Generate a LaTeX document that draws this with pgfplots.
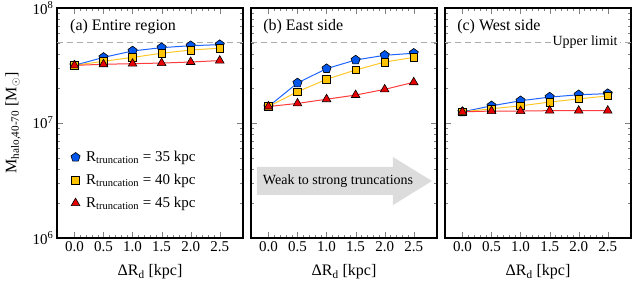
\documentclass[border=0pt]{standalone}
\usepackage{fontspec}
\setmainfont{Liberation Serif}
\usepackage{pgfplots}
\pgfplotsset{compat=1.18}
\usetikzlibrary{plotmarks}
\definecolor{bfill}{RGB}{0,85,235}
\definecolor{bline}{RGB}{30,100,255}
\definecolor{yfill}{RGB}{255,195,0}
\definecolor{yline}{RGB}{255,200,40}
\definecolor{rfill}{RGB}{230,0,0}
\definecolor{rline}{RGB}{255,60,60}
\definecolor{arrowgray}{RGB}{220,220,220}
\definecolor{limgray}{RGB}{170,170,170}
\tikzset{ptitle/.style={anchor=west, inner sep=0pt, font=\fontsize{16}{18}\selectfont}}
\pgfplotsset{
  bser/.style={color=bline, line width=1pt, mark=pentagon*, mark size=4.8pt, mark options={fill=bfill, draw=black, line width=0.6pt}},
  yser/.style={color=yline, line width=1pt, mark=square*, mark size=3.8pt, mark options={fill=yfill, draw=black, line width=0.6pt}},
  rser/.style={color=rline, line width=1pt, mark=triangle*, mark size=5pt, mark options={fill=rfill, draw=black, line width=0.6pt}},
  limline/.style={limgray, dash pattern=on 6pt off 4pt, line width=1.1pt, forget plot},
}
\begin{document}
\begin{tikzpicture}
\path[use as bounding box] (0,0) rectangle (638pt,-283pt);
% Panel (a)
\begin{axis}[at={(57pt,-8pt)}, anchor=north west,
    width=186pt, height=230pt, scale only axis,
    xmin=-0.3, xmax=2.9, ymode=log, ymin=1e6, ymax=1e8,
    xtick={0,0.5,1,1.5,2,2.5}, minor x tick num=4,
    ytick={1e6,1e7,1e8},
    minor ytick={2e6,3e6,4e6,5e6,6e6,7e6,8e6,9e6,2e7,3e7,4e7,5e7,6e7,7e7,8e7,9e7},
    tick align=inside,
    major tick length=6pt, minor tick length=3pt,
    axis line style={line width=1.2pt},
    xticklabel={\pgfmathprintnumber[fixed,fixed zerofill,precision=1,assume math mode=true]{\tick}},
    tick label style={font=\fontsize{15}{17}\selectfont},
    label style={font=\fontsize{16}{18}\selectfont},
    xlabel={ΔR\textsubscript{d} [kpc]},
    xlabel style={at={(axis description cs:0.5,-0.148)}, anchor=center},
  yticklabels={10\textsuperscript{6},10\textsuperscript{7},10\textsuperscript{8}},
  ylabel={M\textsubscript{halo,40-70} [M\textsubscript{$\odot$}]},
  ylabel style={at={(axis description cs:-0.237,0.5)}, anchor=center},
  legend style={at={(axis description cs:0.058,0.395)}, anchor=north west, draw=none, fill=none,
    font=\fontsize{15}{17}\selectfont, row sep=7pt, column sep=4pt},
  legend cell align=left]
\addplot[limline] coordinates {(-0.3,5e7) (2.9,5e7)};
\addplot[bser, forget plot] coordinates {(0,3.17e7) (0.5,3.72e7) (1.0,4.23e7) (1.5,4.52e7) (2.0,4.70e7) (2.5,4.80e7)};
\addplot[yser, forget plot] coordinates {(0,3.17e7) (0.5,3.44e7) (1.0,3.72e7) (1.5,4.04e7) (2.0,4.31e7) (2.5,4.47e7)};
\addplot[rser, forget plot] coordinates {(0,3.17e7) (0.5,3.24e7) (1.0,3.28e7) (1.5,3.32e7) (2.0,3.39e7) (2.5,3.49e7)};
\addlegendimage{only marks, mark=pentagon*, mark size=4.8pt, mark options={fill=bfill, draw=black, line width=0.6pt}}
\addlegendentry{R\textsubscript{truncation} = 35 kpc}
\addlegendimage{only marks, mark=square*, mark size=3.8pt, mark options={fill=yfill, draw=black, line width=0.6pt}}
\addlegendentry{R\textsubscript{truncation} = 40 kpc}
\addlegendimage{only marks, mark=triangle*, mark size=5pt, mark options={fill=rfill, draw=black, line width=0.6pt}}
\addlegendentry{R\textsubscript{truncation} = 45 kpc}
\node[ptitle] at (rel axis cs:0.07,0.92) {(a) Entire region};
\end{axis}
% Panel (b)
\begin{axis}[at={(251pt,-8pt)}, anchor=north west,
    width=186pt, height=230pt, scale only axis,
    xmin=-0.3, xmax=2.9, ymode=log, ymin=1e6, ymax=1e8,
    xtick={0,0.5,1,1.5,2,2.5}, minor x tick num=4,
    ytick={1e6,1e7,1e8},
    minor ytick={2e6,3e6,4e6,5e6,6e6,7e6,8e6,9e6,2e7,3e7,4e7,5e7,6e7,7e7,8e7,9e7},
    tick align=inside,
    major tick length=6pt, minor tick length=3pt,
    axis line style={line width=1.2pt},
    xticklabel={\pgfmathprintnumber[fixed,fixed zerofill,precision=1,assume math mode=true]{\tick}},
    tick label style={font=\fontsize{15}{17}\selectfont},
    label style={font=\fontsize{16}{18}\selectfont},
    xlabel={ΔR\textsubscript{d} [kpc]},
    xlabel style={at={(axis description cs:0.5,-0.148)}, anchor=center},
    yticklabels={}]
\addplot[limline] coordinates {(-0.3,5e7) (2.9,5e7)};
\fill[arrowgray] (rel axis cs:0.032,0.187) -- (rel axis cs:0.763,0.187) -- (rel axis cs:0.763,0.143) -- (rel axis cs:0.973,0.248) -- (rel axis cs:0.763,0.352) -- (rel axis cs:0.763,0.309) -- (rel axis cs:0.032,0.309) -- cycle;
\node[font=\fontsize{14}{16}\selectfont] at (rel axis cs:0.468,0.248) {Weak to strong truncations};
\addplot[bser] coordinates {(0,1.39e7) (0.5,2.23e7) (1.0,2.97e7) (1.5,3.53e7) (2.0,3.88e7) (2.5,4.04e7)};
\addplot[yser] coordinates {(0,1.39e7) (0.5,1.87e7) (1.0,2.40e7) (1.5,2.89e7) (2.0,3.39e7) (2.5,3.72e7)};
\addplot[rser] coordinates {(0,1.39e7) (0.5,1.48e7) (1.0,1.61e7) (1.5,1.75e7) (2.0,1.96e7) (2.5,2.26e7)};
\node[ptitle] at (rel axis cs:0.065,0.92) {(b) East side};
\end{axis}
% Panel (c)
\begin{axis}[at={(445pt,-8pt)}, anchor=north west,
    width=186pt, height=230pt, scale only axis,
    xmin=-0.3, xmax=2.9, ymode=log, ymin=1e6, ymax=1e8,
    xtick={0,0.5,1,1.5,2,2.5}, minor x tick num=4,
    ytick={1e6,1e7,1e8},
    minor ytick={2e6,3e6,4e6,5e6,6e6,7e6,8e6,9e6,2e7,3e7,4e7,5e7,6e7,7e7,8e7,9e7},
    tick align=inside,
    major tick length=6pt, minor tick length=3pt,
    axis line style={line width=1.2pt},
    xticklabel={\pgfmathprintnumber[fixed,fixed zerofill,precision=1,assume math mode=true]{\tick}},
    tick label style={font=\fontsize{15}{17}\selectfont},
    label style={font=\fontsize{16}{18}\selectfont},
    xlabel={ΔR\textsubscript{d} [kpc]},
    xlabel style={at={(axis description cs:0.5,-0.148)}, anchor=center},
    yticklabels={}]
\addplot[limline] coordinates {(-0.3,5e7) (2.9,5e7)};
\node[fill=white, inner sep=2pt, font=\fontsize{14}{16}\selectfont] at (axis cs:2.11,5e7) {Upper limit};
\addplot[bser] coordinates {(0,1.25e7) (0.5,1.41e7) (1.0,1.56e7) (1.5,1.68e7) (2.0,1.76e7) (2.5,1.80e7)};
\addplot[yser] coordinates {(0,1.25e7) (0.5,1.33e7) (1.0,1.41e7) (1.5,1.52e7) (2.0,1.62e7) (2.5,1.72e7)};
\addplot[rser] coordinates {(0,1.25e7) (0.5,1.27e7) (1.0,1.27e7) (1.5,1.28e7) (2.0,1.28e7) (2.5,1.28e7)};
\node[ptitle] at (rel axis cs:0.065,0.92) {(c) West side};
\end{axis}
\end{tikzpicture}
\end{document}
